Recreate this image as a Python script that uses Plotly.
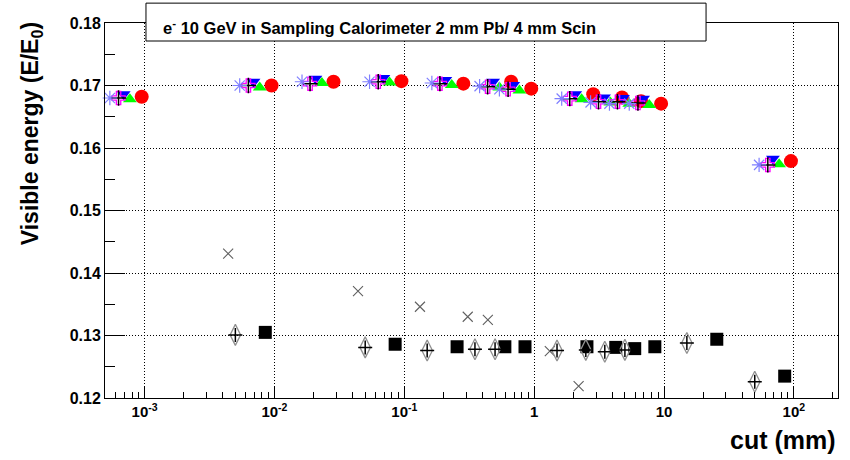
import plotly.graph_objects as go

# ---- data ----
# Top group (visible energy ~0.17), six series drawn slightly shifted in x
circ_x = [0.00095, 0.0095, 0.0285, 0.095, 0.285, 0.665, 0.95, 2.85, 4.75, 6.65, 9.5, 95]
circ_y = [0.1682, 0.1700, 0.1706, 0.1707, 0.1703, 0.1706, 0.1695, 0.1686, 0.1681, 0.1675, 0.1671, 0.1579]

tri_x = [0.00077, 0.0077, 0.0232, 0.077, 0.232, 0.54, 0.77, 2.32, 3.86, 5.4, 7.7, 77]
tri_y = [0.1678, 0.1697, 0.1704, 0.1705, 0.1701, 0.1697, 0.1692, 0.1678, 0.1673, 0.1671, 0.1669, 0.1574]

itri_x = [0.00069, 0.0069, 0.0207, 0.069, 0.207, 0.483, 0.69, 2.07, 3.45, 4.83, 6.9, 69]
itri_y = [0.1686, 0.1706, 0.1711, 0.1712, 0.1709, 0.1706, 0.1701, 0.1686, 0.1681, 0.1680, 0.1679, 0.1583]

cross_x = [0.00063, 0.0063, 0.0188, 0.063, 0.188, 0.438, 0.63, 1.88, 3.13, 4.38, 6.3, 63]
cross_y = [0.1680, 0.1700, 0.1703, 0.1706, 0.1703, 0.1698, 0.1694, 0.1679, 0.1674, 0.1674, 0.1672, 0.1573]

star_x = [0.00054, 0.0054, 0.0163, 0.054, 0.163, 0.38, 0.54, 1.63, 2.72, 3.8, 5.4, 54]
star_y = [0.1680, 0.1700, 0.1706, 0.1706, 0.1704, 0.1699, 0.1694, 0.1679, 0.1673, 0.1671, 0.1671, 0.1573]

# Bottom group
sq_x = [0.0085, 0.085, 0.255, 0.595, 0.85, 2.55, 4.25, 5.95, 8.5, 25.5, 85]
sq_y = [0.1305, 0.1286, 0.1282, 0.1282, 0.1282, 0.1282, 0.1281, 0.1279, 0.1282, 0.1294, 0.1235]

xm_x = [0.0044, 0.044, 0.132, 0.308, 0.44, 1.32, 2.2]
xm_y = [0.1431, 0.1371, 0.1346, 0.1330, 0.1325, 0.1275, 0.1219]

dia_x = [0.005, 0.05, 0.15, 0.35, 0.5, 1.5, 2.5, 3.5, 5, 15, 50]
dia_y = [0.1301, 0.1281, 0.1276, 0.1278, 0.1278, 0.1276, 0.1277, 0.1274, 0.1277, 0.1288, 0.1226]

x_tickvals = [0.001, 0.01, 0.1, 1, 10, 100]
x_ticktext = ["10<sup>-3</sup>", "10<sup>-2</sup>", "10<sup>-1</sup>", "1", "10", "10<sup>2</sup>"]
y_tickvals = [0.12, 0.13, 0.14, 0.15, 0.16, 0.17, 0.18]

title_text = "e<sup>-</sup> 10 GeV in Sampling Calorimeter 2 mm Pb/ 4 mm Scin"
x_title = "cut (mm)"
y_title = "Visible energy (E/E<sub>0</sub>)"

FONT = "Liberation Sans"
GRID_DASH = "1px,2px"

fig = go.Figure()

def add(x, y, symbol, color, size, lw=1.0, lc=None):
    fig.add_trace(go.Scatter(
        x=x, y=y, mode="markers", cliponaxis=False, showlegend=False,
        marker=dict(symbol=symbol, size=size, color=color,
                    line=dict(width=lw, color=lc if lc else color))))

# bottom group
add(sq_x, sq_y, "square", "black", 13, 0)
add(xm_x, xm_y, "x-thin-open", "#606060", 10, 1.1)
add(dia_x, dia_y, "diamond-tall-open", "#909090", 15, 1.3)
add(dia_x, dia_y, "cross-thin-open", "black", 10, 1.5)

# top group
add(circ_x, circ_y, "circle", "#ff0000", 14, 0)
add(itri_x, itri_y, "triangle-down", "#0000ff", 12, 0)
add(tri_x, tri_y, "triangle-up", "#00ff00", 12, 0)
add(cross_x, cross_y, "cross-open", "#ff00ff", 11, 1.3)
add(cross_x, cross_y, "cross-thin-open", "black", 11, 1.5)
add(star_x, star_y, "asterisk-open", "#7f7fff", 12, 1.2)

fig.update_layout(
    width=850, height=460,
    margin=dict(l=105, r=12, t=23, b=62),
    paper_bgcolor="white", plot_bgcolor="white",
    font=dict(family=FONT, color="black"),
    xaxis=dict(
        type="log", range=[-3.305, 2.34],
        tickvals=x_tickvals, ticktext=x_ticktext,
        tickfont=dict(size=15, family=FONT, weight="bold"),
        ticks="inside", ticklen=12, tickcolor="black", tickwidth=1,
        minor=dict(ticks="inside", ticklen=6, tickcolor="black", dtick="D1", showgrid=False),
        showgrid=True, gridcolor="black", griddash=GRID_DASH, gridwidth=1,
        showline=True, linecolor="black", linewidth=1, mirror=True, zeroline=False,
    ),
    yaxis=dict(
        range=[0.12, 0.18], tickvals=y_tickvals, tickformat=".2f",
        tickfont=dict(size=16, family=FONT, weight="bold"),
        ticks="inside", ticklen=20, tickcolor="black", tickwidth=1,
        minor=dict(ticks="inside", ticklen=10, tickcolor="black", dtick=0.005, showgrid=False),
        showgrid=True, gridcolor="black", griddash=GRID_DASH, gridwidth=1,
        showline=True, linecolor="black", linewidth=1, mirror=True, zeroline=False,
    ),
    shapes=[dict(type="rect", xref="paper", yref="paper",
                 x0=0.0559, x1=0.820, y0=0.952, y1=1.053,
                 fillcolor="white", line=dict(color="black", width=1), layer="above")],
    annotations=[
        dict(text=title_text, xref="paper", yref="paper", x=0.0764, y=0.99,
             xanchor="left", yanchor="middle", showarrow=False,
             font=dict(size=16.5, family=FONT, weight="bold")),
        dict(text=x_title, xref="paper", yref="paper", x=1.0, y=-0.112,
             xanchor="right", yanchor="middle", showarrow=False,
             font=dict(size=25, family=FONT, weight="bold")),
        dict(text=y_title, xref="paper", yref="paper", x=-0.1, y=1.008,
             xanchor="center", yanchor="top", textangle=-90, showarrow=False,
             font=dict(size=23, family=FONT, weight="bold")),
    ],
)

fig.write_html("out.html")
